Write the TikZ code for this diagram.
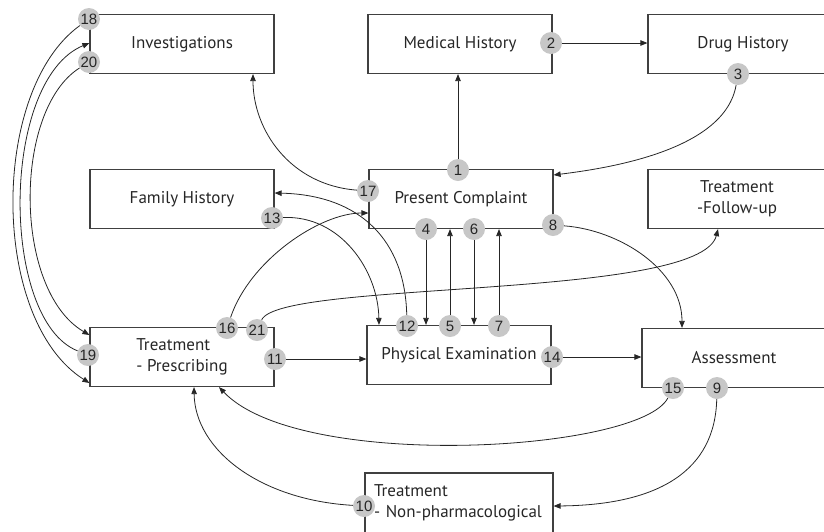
\documentclass[tikz,border=0pt]{standalone}
\usepackage{fontspec}
\setmainfont{PT Sans}
\newfontfamily\numfont{Liberation Sans}
\usetikzlibrary{arrows.meta}
\begin{document}
\begin{tikzpicture}[x=1pt,y=-1pt,
  box/.style={draw=black!75, line width=1.2pt, minimum width=184pt, minimum height=59pt, inner sep=0pt, font=\fontsize{17}{21}\selectfont, text=black!85, align=center},
  badge/.style={circle, fill=black!22, inner sep=0pt, minimum size=22pt, font=\numfont\fontsize{15}{15}\selectfont, text=black!85},
  conn/.style={draw=black!85, line width=0.8pt, -{Triangle[length=7pt,width=5.5pt]}},
]
\useasboundingbox (0,0) rectangle (824,531);
\clip (0,0) rectangle (824,531);
% boxes
\node[box] (inv) at (182,44) {Investigations};
\node[box] (mh) at (460,44) {Medical History};
\node[box, minimum width=190pt] (dh) at (743,44) {Drug History};
\node[box] (fh) at (182,199) {Family History};
\node[box] (pc) at (461,199) {Present Complaint};
\node[box, minimum width=178pt] (fu) at (737,199) {Treatment\\-Follow-up};
\node[box, align=left] (tp) at (182,357) {Treatment\\- Prescribing};
\node[box] (pe) at (459,355) {Physical Examination};
\node[box] (as) at (734,358) {Assessment};
\node[box, minimum width=188pt, minimum height=60pt, text width=170pt, align=left] (np) at (459,503) {Treatment\\- Non-pharmacological};
% badges
\node[badge] (b1) at (458,170) {1};
\node[badge] (b2) at (551,43) {2};
\node[badge] (b3) at (738,74) {3};
\node[badge] (b4) at (426,229) {4};
\node[badge] (b5) at (450,326) {5};
\node[badge] (b6) at (474,229) {6};
\node[badge] (b7) at (499,326) {7};
\node[badge] (b8) at (553,225) {8};
\node[badge] (b9) at (717,388) {9};
\node[badge] (b10) at (364,506) {10};
\node[badge] (b11) at (275,359) {11};
\node[badge] (b12) at (407,326) {12};
\node[badge] (b13) at (272,218) {13};
\node[badge] (b14) at (552,357) {14};
\node[badge] (b15) at (673,388) {15};
\node[badge] (b16) at (227,328) {16};
\node[badge] (b17) at (368,191) {17};
\node[badge] (b18) at (89,19) {18};
\node[badge] (b19) at (88,355) {19};
\node[badge] (b20) at (89,62) {20};
\node[badge] (b21) at (257,330) {21};
% connectors
\draw[conn] (b1) -- (b1 |- mh.south);
\draw[conn] (b2) -- (b2 -| dh.west);
\draw[conn] (b3) .. controls (725,150) and (610,168) .. (pc.east |- 0,175);
\draw[conn] (b4) -- (b4 |- pe.north);
\draw[conn] (b5) -- (b5 |- pc.south);
\draw[conn] (b6) -- (b6 |- pe.north);
\draw[conn] (b7) -- (b7 |- pc.south);
\draw[conn] (b8) .. controls (620,230) and (682,270) .. (as.north -| 682,0);
\draw[conn] (b9) .. controls (715,470) and (660,505) .. (np.east |- 0,506);
\draw[conn] (b10) .. controls (260,500) and (195,450) .. (tp.south -| 194,0);
\draw[conn] (b11) -- (b11 -| pe.west);
\draw[conn] (b12) .. controls (405,240) and (360,195) .. (fh.east |- 0,193);
\draw[conn] (b13) .. controls (340,215) and (378,270) .. (pe.north -| 379,0);
\draw[conn] (b14) -- (b14 -| as.west);
\draw[conn] (b15) .. controls (640,452) and (300,472) .. (tp.south -| 219,0);
\draw[conn] (b16) .. controls (250,260) and (320,213) .. (pc.west |- 0,213);
\draw[conn] (b17) .. controls (290,185) and (253,130) .. (inv.south -| 253,0);
\draw[conn] (b18) .. controls (-10,90) and (-10,320) .. (tp.west |- 0,383);
\draw[conn] (b19) .. controls (0,320) and (0,80) .. (inv.west |- 0,43);
\draw[conn] (b20) .. controls (13,110) and (13,290) .. (tp.west |- 0,335);
\draw[conn] (b21) .. controls (280,280) and (700,300) .. (fu.south -| 718,0);
\end{tikzpicture}
\end{document}
